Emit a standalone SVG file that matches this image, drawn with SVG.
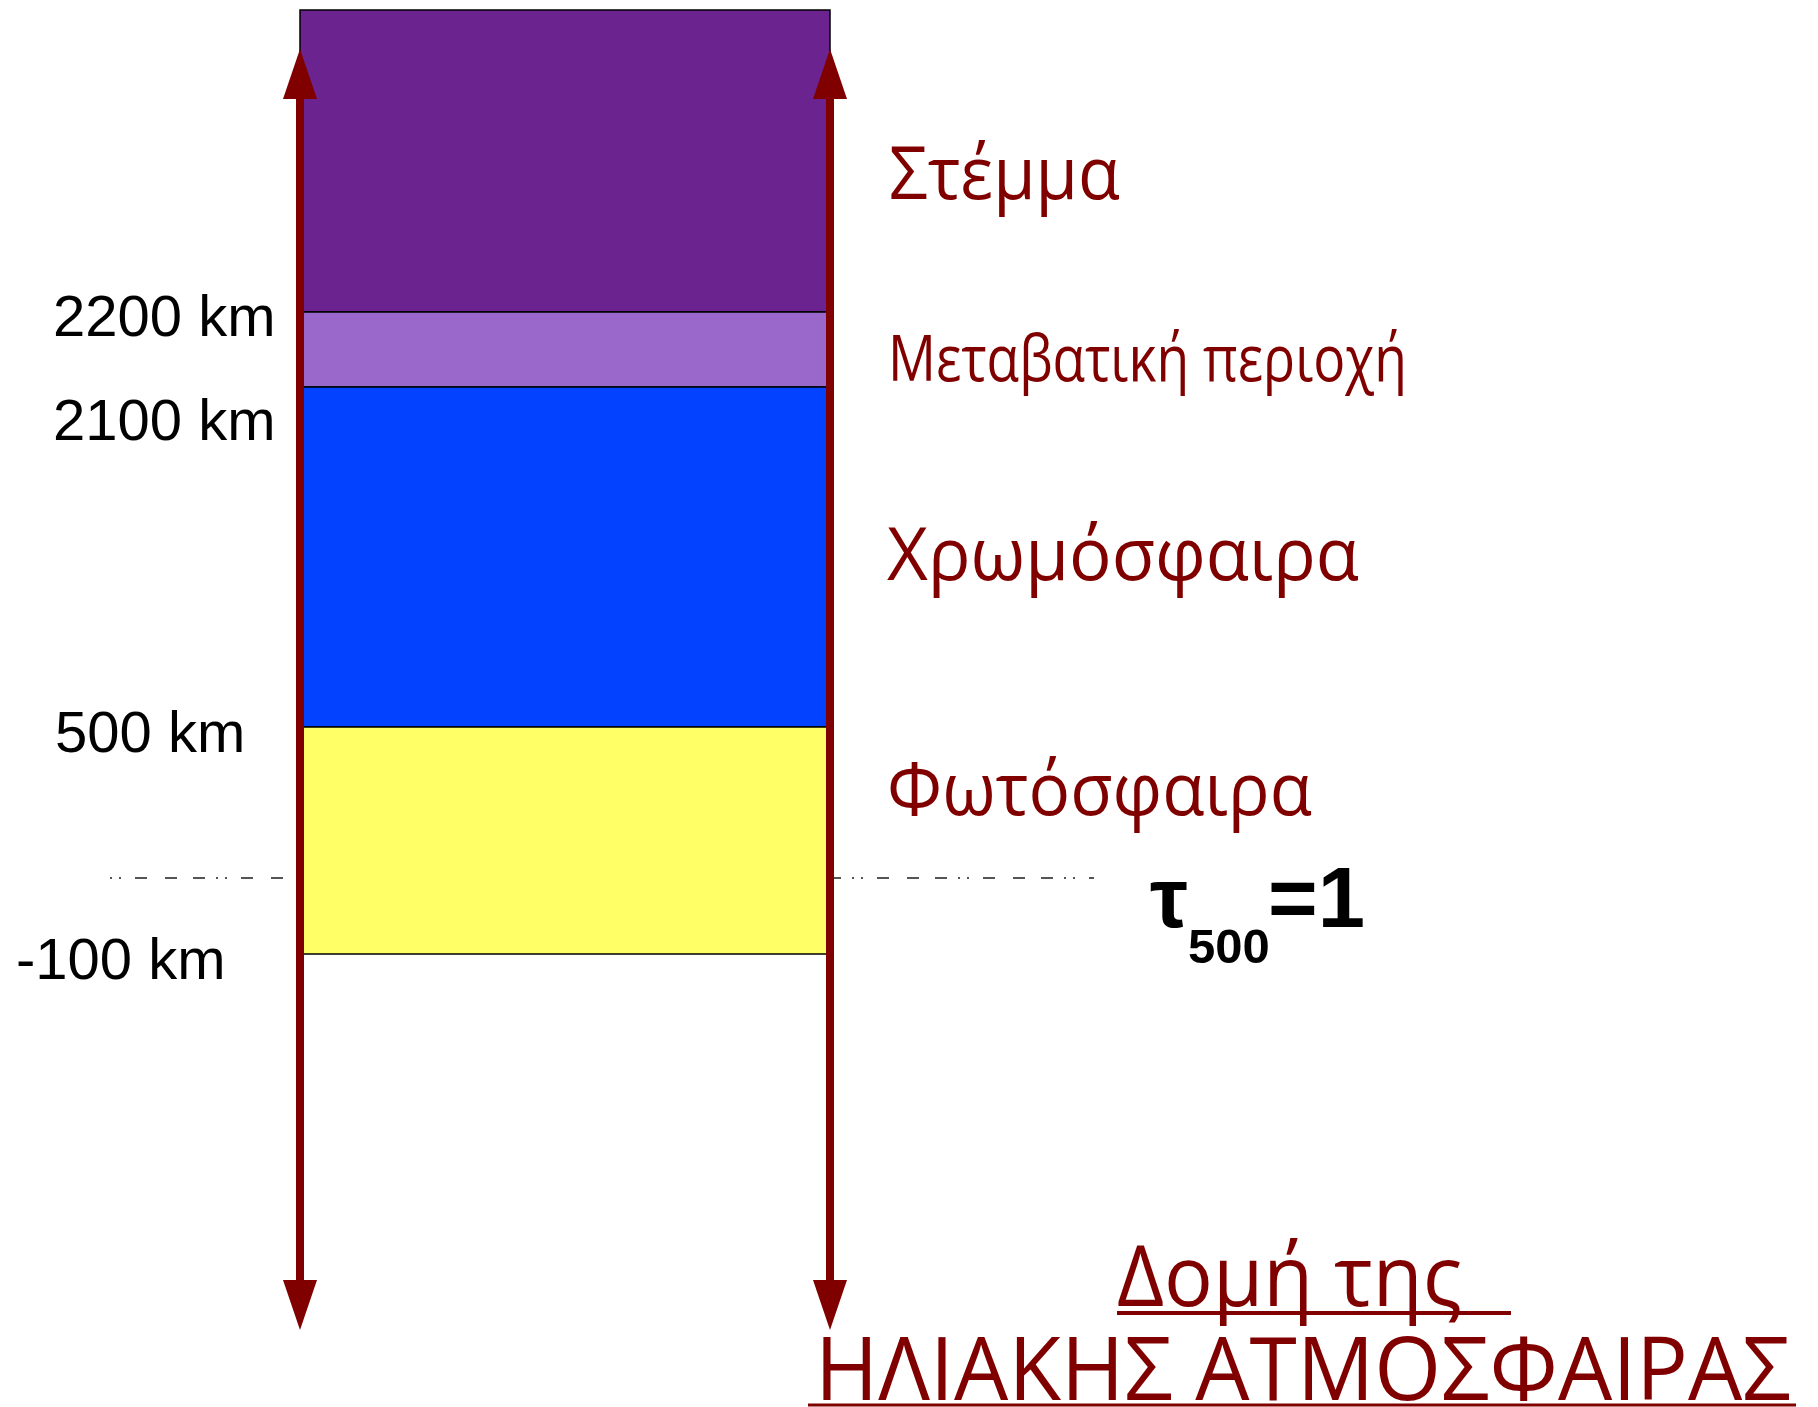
<svg xmlns="http://www.w3.org/2000/svg" width="1818" height="1407" viewBox="0 0 1818 1407">
<style>
.layer{stroke:#000;stroke-width:1.5}
.km{font-family:"Liberation Sans",Arial,sans-serif;font-size:58px;fill:#000}
.name{font-family:"Open Sans","Noto Sans",sans-serif;fill:#800000}
.tau{font-family:"Liberation Sans",Arial,sans-serif;font-weight:bold;fill:#000}
.axis{stroke:#800000;stroke-width:8;fill:none;marker-start:url(#head);marker-end:url(#head)}
.ref{stroke:#555;stroke-width:2;fill:none;stroke-dasharray:2 7 2 14 12 18 12 16 12 11}
.ul{stroke:#800000}
</style>
<defs>
<marker id="head" markerUnits="userSpaceOnUse" markerWidth="50" markerHeight="34" viewBox="0 0 50 34" refX="1" refY="17" orient="auto-start-reverse">
<path d="M0,0 L50,17 L0,34 z" fill="#800000"/>
</marker>
</defs>
<rect width="1818" height="1407" fill="#fff"/>
<g id="connectors">
<line class="ref" x1="110" y1="878" x2="1094" y2="878"/>
</g>
<g id="layer-corona"><rect class="layer" x="300" y="10" width="530" height="302" fill="#6B2390"/></g>
<g id="layer-transition"><rect class="layer" x="300" y="312" width="530" height="75" fill="#9A67CA"/></g>
<g id="layer-chromosphere"><rect class="layer" x="300" y="387" width="530" height="340" fill="#0343FF"/></g>
<g id="layer-photosphere"><rect class="layer" x="300" y="727" width="530" height="227" fill="#FFFF66"/></g>
<g id="axes">
<line class="axis" x1="300" y1="98" x2="300" y2="1281"/>
<line class="axis" x1="830" y1="98" x2="830" y2="1281"/>
</g>
<g id="heights">
<text class="km" x="53" y="336">2200 km</text>
<text class="km" x="53" y="440">2100 km</text>
<text class="km" x="55" y="752">500 km</text>
<text class="km" x="16" y="979">-100 km</text>
</g>
<g id="names">
<text class="name" x="889" y="199" font-size="74" textLength="231" lengthAdjust="spacingAndGlyphs">Στέμμα</text>
<text class="name" x="888" y="381" font-size="64" textLength="519" lengthAdjust="spacingAndGlyphs">Μεταβατική περιοχή</text>
<text class="name" x="887" y="580" font-size="74" textLength="472" lengthAdjust="spacingAndGlyphs">Χρωμόσφαιρα</text>
<text class="name" x="887" y="815" font-size="74" textLength="425" lengthAdjust="spacingAndGlyphs">Φωτόσφαιρα</text>
</g>
<g id="tau">
<text class="tau" x="1150" y="927" font-size="85">τ</text>
<text class="tau" x="1188" y="963" font-size="49">500</text>
<text class="tau" x="1268" y="927" font-size="85">=1</text>
</g>
<g id="title">
<text class="name" x="1117" y="1306" font-size="85" textLength="345" lengthAdjust="spacingAndGlyphs">Δομή της</text>
<line class="ul" x1="1117" y1="1313" x2="1511" y2="1313" stroke-width="4"/>
<text class="name" x="815" y="1400" font-size="87" textLength="976" lengthAdjust="spacingAndGlyphs">ΗΛΙΑΚΗΣ ΑΤΜΟΣΦΑΙΡΑΣ</text>
<line class="ul" x1="808" y1="1405" x2="1796" y2="1405" stroke-width="3"/>
</g>
</svg>
